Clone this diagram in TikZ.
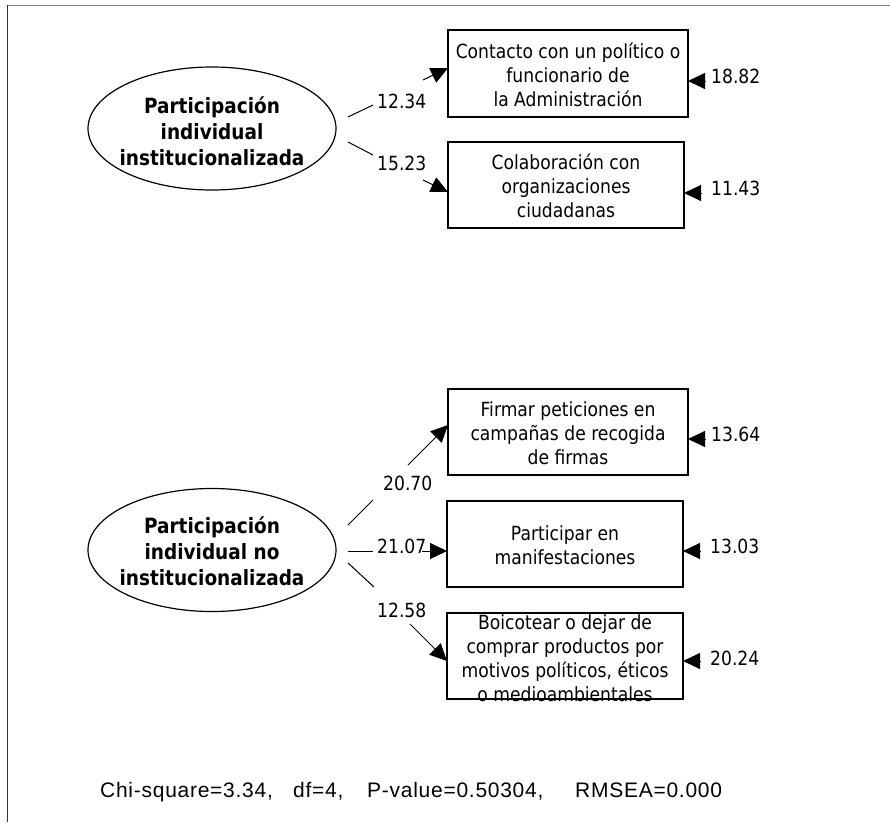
\documentclass[tikz,border=0pt]{standalone}
\usepackage{fontspec}
\setmainfont{DejaVu Sans}
\newfontfamily\boxfont[FakeStretch=0.88]{DejaVu Sans}
\newfontfamily\statfont[LetterSpace=3.5]{Liberation Sans}
\usetikzlibrary{shapes.geometric,arrows.meta}
\begin{document}
\begin{tikzpicture}[x=1pt,y=-1pt,
  txt/.style={font=\boxfont\fontsize{19.5}{24}\selectfont, inner sep=0pt},
  lat/.style={draw, line width=1.2pt, ellipse, minimum width=248pt, minimum height=123pt, inner sep=0pt},
  lattext/.style={font=\boxfont\bfseries\fontsize{21}{26}\selectfont, align=center, inner sep=0pt},
  obs/.style={draw, line width=1.3pt, rectangle, minimum height=86pt, inner sep=0pt},
  obstext/.style={txt, align=center},
  ln/.style={line width=1pt},
  arr/.style={-{Triangle[length=17pt,width=16pt]}},
  frameh/.style={draw=black!50, line width=1.6pt},
  framev/.style={draw=black!80, line width=1.3pt},
  stat/.style={font=\statfont\fontsize{21}{24}\selectfont, inner sep=0pt, anchor=base west}]
\useasboundingbox (0,0) rectangle (890,822);
\fill[white] (0,0) rectangle (890,822);
% frame
\draw[frameh] (7,5.5) -- (890,5.5);
\draw[framev] (7.3,5) -- (7.3,822);

% latent variables
\node[lat] (e1) at (212,128.5) {};
\node[lattext] (e1t) at (212,131) {Participación\\individual\\institucionalizada};
\node[lat] (e2) at (212,550) {};
\node[lattext] (e2t) at (212,551) {Participación\\individual no\\institucionalizada};

% observed variables
\node[obstext] (b1t) at (568,74.5) {Contacto con un político o\\funcionario de\\la Administración};
\node[obs, minimum width=240pt, minimum height=87pt] (b1) at (568,73.5) {};
\node[obstext] (b2t) at (566,186) {Colaboración con\\organizaciones\\ciudadanas};
\node[obs, minimum width=236pt] (b2) at (566,185) {};
\node[obstext] (b3t) at (568,433) {Firmar peticiones en\\campañas de recogida\\de firmas};
\node[obs, minimum width=240pt] (b3) at (568,432) {};
\node[obstext] (b4t) at (565,545) {Participar en\\manifestaciones};
\node[obs, minimum width=236pt] (b4) at (565,544) {};
\node[obstext] (b5t) at (565,658) {Boicotear o dejar de\\comprar productos por\\motivos políticos, éticos\\o medioambientales};
\node[obs, minimum width=236pt] (b5) at (565,656) {};

% loading paths
\coordinate (l1s) at (348,117); \coordinate (l1a) at (373,105);
\coordinate (l1b) at (423,80);  \coordinate (l1t) at (448,68);
\draw[ln] (l1s) -- (l1a); \draw[ln,arr] (l1b) -- (l1t);
\node[txt, anchor=base west] (l1l) at (377,108) {12.34};

\coordinate (l2s) at (348,142); \coordinate (l2a) at (373,155);
\coordinate (l2b) at (423,180); \coordinate (l2t) at (448,192);
\draw[ln] (l2s) -- (l2a); \draw[ln,arr] (l2b) -- (l2t);
\node[txt, anchor=base west] (l2l) at (377,170) {15.23};

\coordinate (l3s) at (348,525); \coordinate (l3a) at (373,500);
\coordinate (l3b) at (408,465); \coordinate (l3t) at (448,425);
\draw[ln] (l3s) -- (l3a); \draw[ln,arr] (l3b) -- (l3t);
\node[txt, anchor=base west] (l3l) at (383,490) {20.70};

\coordinate (l4s) at (348,551); \coordinate (l4a) at (373,551);
\coordinate (l4b) at (422,551); \coordinate (l4t) at (447,551);
\draw[ln] (l4s) -- (l4a); \draw[ln,arr] (l4b) -- (l4t);
\node[txt, anchor=base west] (l4l) at (377,553) {21.07};

\coordinate (l5s) at (348,563); \coordinate (l5a) at (374,587);
\coordinate (l5b) at (410,624); \coordinate (l5t) at (447,661);
\draw[ln] (l5s) -- (l5a); \draw[ln,arr] (l5b) -- (l5t);
\node[txt, anchor=base west] (l5l) at (377,617) {12.58};

% error variances
\coordinate (r1s) at (705,81);  \coordinate (r1t) at (688,81);
\draw[ln,arr] (r1s) -- (r1t);
\node[txt, anchor=base west] (r1l) at (711,83) {18.82};
\coordinate (r2s) at (701,193); \coordinate (r2t) at (684,193);
\draw[ln,arr] (r2s) -- (r2t);
\node[txt, anchor=base west] (r2l) at (711,195) {11.43};
\coordinate (r3s) at (705,439); \coordinate (r3t) at (688,439);
\draw[ln,arr] (r3s) -- (r3t);
\node[txt, anchor=base west] (r3l) at (711,441) {13.64};
\coordinate (r4s) at (700,551); \coordinate (r4t) at (683,551);
\draw[ln,arr] (r4s) -- (r4t);
\node[txt, anchor=base west] (r4l) at (710,553) {13.03};
\coordinate (r5s) at (700,661); \coordinate (r5t) at (683,661);
\draw[ln,arr] (r5s) -- (r5t);
\node[txt, anchor=base west] (r5l) at (710,665) {20.24};

% fit statistics
\node[stat] (f1) at (100,797) {Chi-square=3.34,};
\node[stat] (f2) at (293,797) {df=4,};
\node[stat] (f3) at (367,797) {P-value=0.50304,};
\node[stat] (f4) at (575,797) {RMSEA=0.000};
\end{tikzpicture}
\end{document}
